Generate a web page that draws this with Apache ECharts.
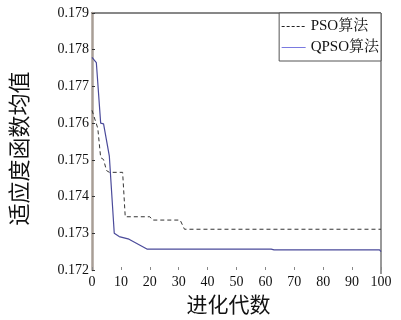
<!DOCTYPE html>
<html><head><meta charset="utf-8">
<script src="https://cdn.jsdelivr.net/npm/echarts@6/dist/echarts.min.js"></script>
<style>html,body{margin:0;padding:0;background:#fff}#c{width:401px;height:320px}</style>
</head><body><div id="c"></div>
<script>
var xTicks = [0,10,20,30,40,50,60,70,80,90,100];
var psoGen = [0, 2, 3, 4, 5, 6, 10.6, 11.5, 20, 21, 30.5, 32, 100];
var psoVal = [0.17635, 0.17586, 0.17506, 0.17501, 0.17471, 0.17466, 0.17466, 0.17345, 0.17345, 0.17336, 0.17336, 0.17311, 0.17311];
var qpsoGen = [0, 1.5, 3, 4, 6, 7.7, 9.4, 12.8, 19, 62, 63, 99.5, 100];
var qpsoVal = [0.17779, 0.17765, 0.17600, 0.17598, 0.17510, 0.17300, 0.17291, 0.17284, 0.17257, 0.17257, 0.17255, 0.17255, 0.17250];
var names = ['PSO算法', 'QPSO算法'];

function pairs(xs, ys){ return xs.map(function(x,i){ return [x, ys[i]]; }); }

var chart = echarts.init(document.getElementById('c'));
var serif = '"Liberation Serif", "Noto Serif CJK SC", "Noto Sans CJK SC", serif';
chart.setOption({
  animation: false,
  grid: {left: 91, right: 20, top: 13, bottom: 46},
  xAxis: {
    type: 'value', min: 0, max: 100, interval: 10,
    name: '进化代数', nameLocation: 'middle', nameGap: 24,
    nameTextStyle: {fontFamily: '"Noto Sans CJK SC"', fontSize: 21, color: '#111', padding: [0, 16, 0, 0]},
    axisLine: {show: false},
    axisTick: {show: true, inside: true, length: 3, lineStyle: {color: '#888'}},
    axisLabel: {fontFamily: serif, fontSize: 14, color: '#111', margin: 5},
    splitLine: {show: false}
  },
  yAxis: {
    type: 'value', min: 0.172, max: 0.179, interval: 0.001,
    name: '适应度函数均值', nameLocation: 'middle', nameGap: 62,
    nameTextStyle: {fontFamily: '"Noto Sans CJK SC"', fontSize: 22, color: '#111', padding: [0, 14, 0, 0]},
    axisLine: {show: true, lineStyle: {color: '#a89e96', width: 2.5}},
    axisTick: {show: true, inside: true, length: 3, lineStyle: {color: '#333'}},
    axisLabel: {fontFamily: serif, fontSize: 14, color: '#111', margin: 3,
      formatter: function(v){ return v.toFixed(3); }},
    splitLine: {show: false}
  },
  legend: {
    orient: 'vertical', right: 20, top: 13,
    itemWidth: 24, itemHeight: 10, itemGap: 6,
    padding: [6, 2, 6, 2],
    backgroundColor: '#fff', borderColor: '#555', borderWidth: 1,
    itemStyle: {opacity: 0},
    textStyle: {fontFamily: serif, fontSize: 15, color: '#111'},
    data: [
      {name: names[0], lineStyle: {color: '#222', width: 1, type: [3, 2]}},
      {name: names[1], lineStyle: {color: '#7a7ae0', width: 1, type: 'solid'}}
    ]
  },
  graphic: [
    {type: 'line', shape: {x1: 91, y1: 13, x2: 381, y2: 13}, style: {stroke: '#111', lineWidth: 1}},
    {type: 'line', shape: {x1: 381, y1: 13, x2: 381, y2: 274}, style: {stroke: '#999', lineWidth: 2}}
  ],
  series: [
    {name: names[0], type: 'line', symbol: 'none', data: pairs(psoGen, psoVal),
      lineStyle: {color: '#333', width: 1, type: [4, 3]}, itemStyle: {color: '#333'}},
    {name: names[1], type: 'line', symbol: 'none', data: pairs(qpsoGen, qpsoVal),
      lineStyle: {color: '#4a4a9a', width: 1.2}, itemStyle: {color: '#8a8ad8'}}
  ]
});
</script></body></html>
